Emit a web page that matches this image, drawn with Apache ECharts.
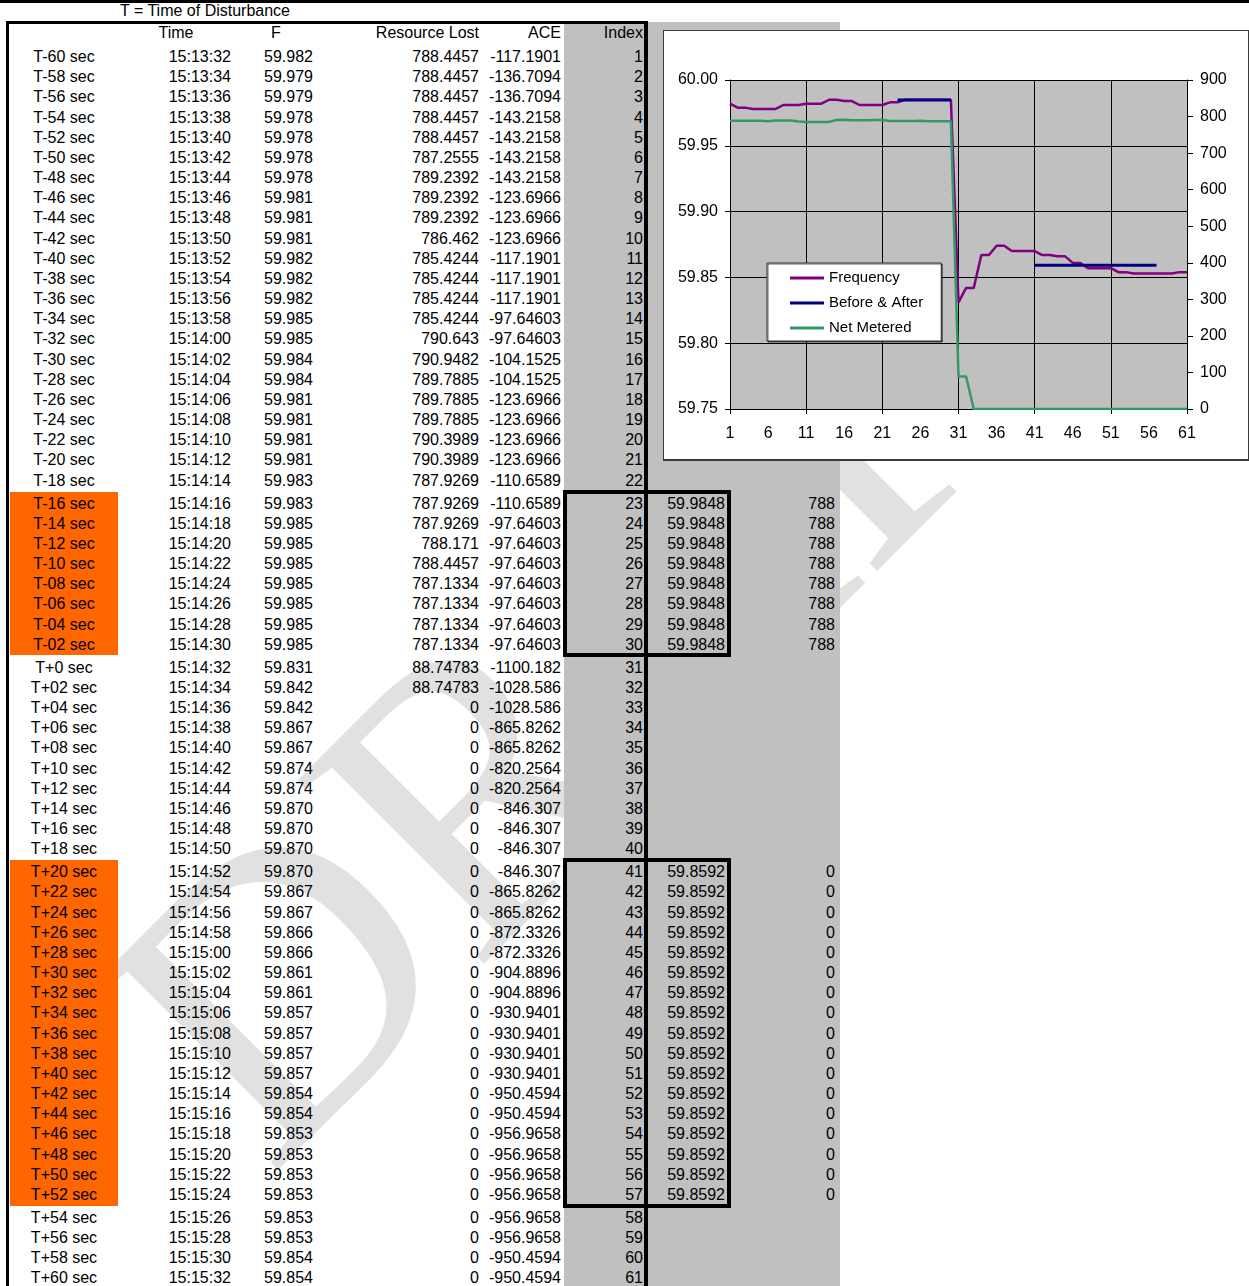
<!DOCTYPE html>
<html><head><meta charset="utf-8">
<script src="https://cdn.jsdelivr.net/npm/echarts@6/dist/echarts.min.js"></script>
<style>
html,body{margin:0;padding:0;background:#fff;}
#page{position:relative;width:1249px;height:1286px;overflow:hidden;font-family:"Liberation Sans",Arial,sans-serif;background:#fff;}
.box{position:absolute;}
.t{position:absolute;font-size:16px;line-height:20px;height:20px;color:#000;white-space:nowrap;z-index:3;}
#frame{position:absolute;left:663px;top:30px;width:587px;height:431px;box-sizing:border-box;background:#fff;border-style:solid;border-color:#3a3a3a;border-width:1px 2px 2px 1px;z-index:5;}
#chart{position:absolute;left:0;top:0;width:584px;height:428px;}
</style></head><body><div id="page">
<svg class="box" style="left:0;top:0;z-index:0" width="1249" height="1286"><text x="270" y="1178" transform="rotate(-45 270 1178)" font-family="Liberation Serif" font-size="400" fill="#e1e1e1">DRAFT</text></svg>
<div id="frame"><div id="chart"></div></div>
</div>
<script>
const rowLabels = ['T-60 sec','T-58 sec','T-56 sec','T-54 sec','T-52 sec','T-50 sec','T-48 sec','T-46 sec','T-44 sec','T-42 sec','T-40 sec','T-38 sec','T-36 sec','T-34 sec','T-32 sec','T-30 sec','T-28 sec','T-26 sec','T-24 sec','T-22 sec','T-20 sec','T-18 sec','T-16 sec','T-14 sec','T-12 sec','T-10 sec','T-08 sec','T-06 sec','T-04 sec','T-02 sec','T+0 sec','T+02 sec','T+04 sec','T+06 sec','T+08 sec','T+10 sec','T+12 sec','T+14 sec','T+16 sec','T+18 sec','T+20 sec','T+22 sec','T+24 sec','T+26 sec','T+28 sec','T+30 sec','T+32 sec','T+34 sec','T+36 sec','T+38 sec','T+40 sec','T+42 sec','T+44 sec','T+46 sec','T+48 sec','T+50 sec','T+52 sec','T+54 sec','T+56 sec','T+58 sec','T+60 sec'];
const times = ['15:13:32','15:13:34','15:13:36','15:13:38','15:13:40','15:13:42','15:13:44','15:13:46','15:13:48','15:13:50','15:13:52','15:13:54','15:13:56','15:13:58','15:14:00','15:14:02','15:14:04','15:14:06','15:14:08','15:14:10','15:14:12','15:14:14','15:14:16','15:14:18','15:14:20','15:14:22','15:14:24','15:14:26','15:14:28','15:14:30','15:14:32','15:14:34','15:14:36','15:14:38','15:14:40','15:14:42','15:14:44','15:14:46','15:14:48','15:14:50','15:14:52','15:14:54','15:14:56','15:14:58','15:15:00','15:15:02','15:15:04','15:15:06','15:15:08','15:15:10','15:15:12','15:15:14','15:15:16','15:15:18','15:15:20','15:15:22','15:15:24','15:15:26','15:15:28','15:15:30','15:15:32'];
const frequency = [59.982,59.979,59.979,59.978,59.978,59.978,59.978,59.981,59.981,59.981,59.982,59.982,59.982,59.985,59.985,59.984,59.984,59.981,59.981,59.981,59.981,59.983,59.983,59.985,59.985,59.985,59.985,59.985,59.985,59.985,59.831,59.842,59.842,59.867,59.867,59.874,59.874,59.870,59.870,59.870,59.870,59.867,59.867,59.866,59.866,59.861,59.861,59.857,59.857,59.857,59.857,59.854,59.854,59.853,59.853,59.853,59.853,59.853,59.853,59.854,59.854];
const resourceLost = [788.4457,788.4457,788.4457,788.4457,788.4457,787.2555,789.2392,789.2392,789.2392,786.462,785.4244,785.4244,785.4244,785.4244,790.643,790.9482,789.7885,789.7885,789.7885,790.3989,790.3989,787.9269,787.9269,787.9269,788.171,788.4457,787.1334,787.1334,787.1334,787.1334,88.74783,88.74783,0,0,0,0,0,0,0,0,0,0,0,0,0,0,0,0,0,0,0,0,0,0,0,0,0,0,0,0,0];
const ace = [-117.1901,-136.7094,-136.7094,-143.2158,-143.2158,-143.2158,-143.2158,-123.6966,-123.6966,-123.6966,-117.1901,-117.1901,-117.1901,-97.64603,-97.64603,-104.1525,-104.1525,-123.6966,-123.6966,-123.6966,-123.6966,-110.6589,-110.6589,-97.64603,-97.64603,-97.64603,-97.64603,-97.64603,-97.64603,-97.64603,-1100.182,-1028.586,-1028.586,-865.8262,-865.8262,-820.2564,-820.2564,-846.307,-846.307,-846.307,-846.307,-865.8262,-865.8262,-872.3326,-872.3326,-904.8896,-904.8896,-930.9401,-930.9401,-930.9401,-930.9401,-950.4594,-950.4594,-956.9658,-956.9658,-956.9658,-956.9658,-956.9658,-956.9658,-950.4594,-950.4594];
const indexCats = ['1','2','3','4','5','6','7','8','9','10','11','12','13','14','15','16','17','18','19','20','21','22','23','24','25','26','27','28','29','30','31','32','33','34','35','36','37','38','39','40','41','42','43','44','45','46','47','48','49','50','51','52','53','54','55','56','57','58','59','60','61'];
const beforeAfter = [null,null,null,null,null,null,null,null,null,null,null,null,null,null,null,null,null,null,null,null,null,null,59.9848,59.9848,59.9848,59.9848,59.9848,59.9848,59.9848,59.9848,null,null,null,null,null,null,null,null,null,null,59.8592,59.8592,59.8592,59.8592,59.8592,59.8592,59.8592,59.8592,59.8592,59.8592,59.8592,59.8592,59.8592,59.8592,59.8592,59.8592,59.8592,null,null,null,null];
const netRounded = [null,null,null,null,null,null,null,null,null,null,null,null,null,null,null,null,null,null,null,null,null,null,788,788,788,788,788,788,788,788,null,null,null,null,null,null,null,null,null,null,0,0,0,0,0,0,0,0,0,0,0,0,0,0,0,0,0,null,null,null,null];
const headers = ['Time','F','Resource Lost','ACE','Index'];
const titleText = 'T = Time of Disturbance';
const seriesNames = ['Frequency','Before & After','Net Metered'];

const page = document.getElementById('page');
function rect(l,t,w,h,style){const d=document.createElement('div');d.className='box';d.style.cssText='left:'+l+'px;top:'+t+'px;width:'+w+'px;height:'+h+'px;'+style;page.appendChild(d);return d;}
function txt(s,x,yc,align,W){const d=document.createElement('div');d.className='t';d.textContent=s;W=W||110;let l=x;
  if(align==='right'){l=x-W;d.style.textAlign='right';}else if(align==='center'){l=x-W/2;d.style.textAlign='center';}
  d.style.left=l+'px';d.style.width=W+'px';d.style.top=(yc-10)+'px';page.appendChild(d);}
// backgrounds
rect(0,0,1249,3,'background:#000;z-index:2');
rect(564,22,80,1264,'background:#c0c0c0;z-index:1');
rect(648,22,192,1264,'background:#c0c0c0;z-index:1');
rect(10,492,108,163,'background:#ff6600;z-index:1');
rect(10,860,108,346,'background:#ff6600;z-index:1');
rect(6,21,642,3,'background:#000;z-index:2');
rect(6,21,3,1265,'background:#000;z-index:2');
rect(644,21,4,1265,'background:#000;z-index:2');
rect(563,490,168,167,'box-sizing:border-box;border:4px solid #000;z-index:2');
rect(563,858,168,350,'box-sizing:border-box;border:4px solid #000;z-index:2');
// texts
txt(titleText,120,11,'left',200);
txt(headers[0],176,33,'center',60);
txt(headers[1],276,33,'center',30);
txt(headers[2],479,33,'right',120);
txt(headers[3],561,33,'right',50);
txt(headers[4],643,33,'right',60);
const breaks=[22,30,40,57];
function rowY(i){let e=0;breaks.forEach(b=>{if(i>=b)e+=2.8;});return 57+i*20.17+e;}
for(let i=0;i<rowLabels.length;i++){
  const y=rowY(i);
  txt(rowLabels[i],64,y,'center',100);
  txt(times[i],231,y,'right',70);
  txt(frequency[i].toFixed(3),264,y,'left',60);
  txt(String(resourceLost[i]),479,y,'right',75);
  txt(String(ace[i]),561,y,'right',75);
  txt(indexCats[i],643,y,'right',40);
  if(beforeAfter[i]!==null) txt(beforeAfter[i].toFixed(4),725,y,'right',70);
  if(netRounded[i]!==null) txt(String(netRounded[i]),835,y,'right',40);
}

const FF='"Liberation Sans", Arial, sans-serif';
const chart = echarts.init(document.getElementById('chart'));
chart.setOption({
  animation:false,
  backgroundColor:'#fff',
  textStyle:{fontFamily:FF},
  grid:{left:66,top:49,width:457,height:329,show:true,backgroundColor:'#c0c0c0',borderWidth:0,containLabel:false},
  legend:{orient:'vertical',left:103,top:232,data:seriesNames,icon:'rect',itemWidth:34,itemHeight:3,itemGap:7,
    backgroundColor:'#fff',borderColor:'#333',borderWidth:1,padding:[6,18,4,23],
    shadowColor:'rgba(0,0,0,0.6)',shadowOffsetX:1,shadowOffsetY:1,shadowBlur:0,
    textStyle:{fontSize:15,color:'#000',fontFamily:FF,lineHeight:18}},
  xAxis:{type:'category',data:indexCats,boundaryGap:false,
    axisLine:{lineStyle:{color:'#000',width:1}},
    axisTick:{interval:9,length:5,lineStyle:{color:'#000'}},
    axisLabel:{interval:4,color:'#000',fontSize:16,margin:17,fontFamily:FF},
    splitLine:{show:true,interval:9,lineStyle:{color:'#000',width:1}}},
  yAxis:[
    {type:'value',min:59.75,max:60,interval:0.05,position:'left',
     axisLine:{show:true,lineStyle:{color:'#000'}},axisTick:{show:true,length:5,lineStyle:{color:'#000'}},
     axisLabel:{color:'#000',fontSize:16,margin:12,fontFamily:FF,formatter:v=>v.toFixed(2)},
     splitLine:{show:true,lineStyle:{color:'#000',width:1}}},
    {type:'value',min:0,max:900,interval:100,position:'right',
     axisLine:{show:true,lineStyle:{color:'#000'}},axisTick:{show:true,length:6,lineStyle:{color:'#000'}},
     axisLabel:{color:'#000',fontSize:16,margin:13,fontFamily:FF},
     splitLine:{show:false}}
  ],
  series:[
    {name:seriesNames[0],type:'line',data:frequency,yAxisIndex:0,symbol:'none',itemStyle:{color:'#800080'},lineStyle:{color:'#800080',width:2.5}},
    {name:seriesNames[1],type:'line',data:beforeAfter,yAxisIndex:0,symbol:'none',connectNulls:false,itemStyle:{color:'#000080'},lineStyle:{color:'#000080',width:3}},
    {name:seriesNames[2],type:'line',data:resourceLost,yAxisIndex:1,symbol:'none',itemStyle:{color:'#339966'},lineStyle:{color:'#339966',width:2.5}}
  ]
});
</script>
</body></html>
